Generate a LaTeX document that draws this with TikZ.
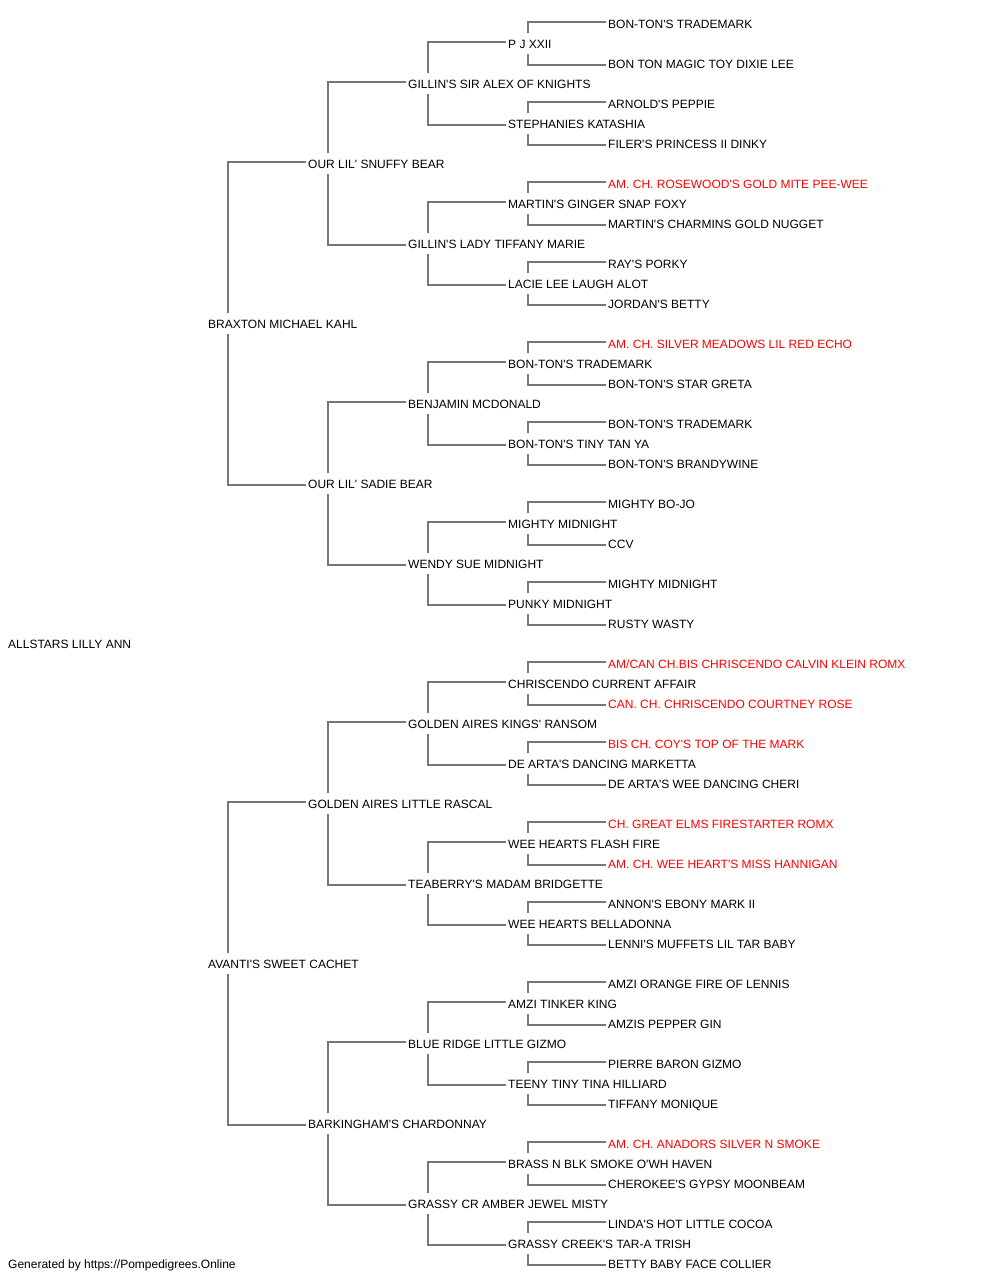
\documentclass[tikz,border=0pt]{standalone}
\usepackage{fontspec}
\setmainfont{Liberation Sans}[Ligatures=TeXOff]
\definecolor{linkgray}{RGB}{119,119,119}
\definecolor{champred}{RGB}{255,0,0}
\begin{document}
\begin{tikzpicture}[x=1pt,y=-1pt,
  dog/.style={anchor=base west,inner sep=0pt,font=\fontsize{12}{14}\selectfont,text=black},
  champ/.style={dog,text=champred},
  link/.style={draw=linkgray,line width=1.2pt}]
\useasboundingbox[fill=white] (0,0) rectangle (1000,1280);
% generation x positions: 8, 208, 308, 408, 508, 608 ; baseline = 28 + 20 i
\node[dog] (n0) at (608,28) {BON-TON'S TRADEMARK};
\node[dog] (n1) at (508,48) {P J XXII};
\node[dog] (n2) at (608,68) {BON TON MAGIC TOY DIXIE LEE};
\node[dog] (n3) at (408,88) {GILLIN'S SIR ALEX OF KNIGHTS};
\node[dog] (n4) at (608,108) {ARNOLD'S PEPPIE};
\node[dog] (n5) at (508,128) {STEPHANIES KATASHIA};
\node[dog] (n6) at (608,148) {FILER'S PRINCESS II DINKY};
\node[dog] (n7) at (308,168) {OUR LIL' SNUFFY BEAR};
\node[champ] (n8) at (608,188) {AM. CH. ROSEWOOD'S GOLD MITE PEE-WEE};
\node[dog] (n9) at (508,208) {MARTIN'S GINGER SNAP FOXY};
\node[dog] (n10) at (608,228) {MARTIN'S CHARMINS GOLD NUGGET};
\node[dog] (n11) at (408,248) {GILLIN'S LADY TIFFANY MARIE};
\node[dog] (n12) at (608,268) {RAY'S PORKY};
\node[dog] (n13) at (508,288) {LACIE LEE LAUGH ALOT};
\node[dog] (n14) at (608,308) {JORDAN'S BETTY};
\node[dog] (n15) at (208,328) {BRAXTON MICHAEL KAHL};
\node[champ] (n16) at (608,348) {AM. CH. SILVER MEADOWS LIL RED ECHO};
\node[dog] (n17) at (508,368) {BON-TON'S TRADEMARK};
\node[dog] (n18) at (608,388) {BON-TON'S STAR GRETA};
\node[dog] (n19) at (408,408) {BENJAMIN MCDONALD};
\node[dog] (n20) at (608,428) {BON-TON'S TRADEMARK};
\node[dog] (n21) at (508,448) {BON-TON'S TINY TAN YA};
\node[dog] (n22) at (608,468) {BON-TON'S BRANDYWINE};
\node[dog] (n23) at (308,488) {OUR LIL' SADIE BEAR};
\node[dog] (n24) at (608,508) {MIGHTY BO-JO};
\node[dog] (n25) at (508,528) {MIGHTY MIDNIGHT};
\node[dog] (n26) at (608,548) {CCV};
\node[dog] (n27) at (408,568) {WENDY SUE MIDNIGHT};
\node[dog] (n28) at (608,588) {MIGHTY MIDNIGHT};
\node[dog] (n29) at (508,608) {PUNKY MIDNIGHT};
\node[dog] (n30) at (608,628) {RUSTY WASTY};
\node[dog] (n31) at (8,648) {ALLSTARS LILLY ANN};
\node[champ] (n32) at (608,668) {AM/CAN CH.BIS CHRISCENDO CALVIN KLEIN ROMX};
\node[dog] (n33) at (508,688) {CHRISCENDO CURRENT AFFAIR};
\node[champ] (n34) at (608,708) {CAN. CH. CHRISCENDO COURTNEY ROSE};
\node[dog] (n35) at (408,728) {GOLDEN AIRES KINGS' RANSOM};
\node[champ] (n36) at (608,748) {BIS CH. COY'S TOP OF THE MARK};
\node[dog] (n37) at (508,768) {DE ARTA'S DANCING MARKETTA};
\node[dog] (n38) at (608,788) {DE ARTA'S WEE DANCING CHERI};
\node[dog] (n39) at (308,808) {GOLDEN AIRES LITTLE RASCAL};
\node[champ] (n40) at (608,828) {CH. GREAT ELMS FIRESTARTER ROMX};
\node[dog] (n41) at (508,848) {WEE HEARTS FLASH FIRE};
\node[champ] (n42) at (608,868) {AM. CH. WEE HEART'S MISS HANNIGAN};
\node[dog] (n43) at (408,888) {TEABERRY'S MADAM BRIDGETTE};
\node[dog] (n44) at (608,908) {ANNON'S EBONY MARK II};
\node[dog] (n45) at (508,928) {WEE HEARTS BELLADONNA};
\node[dog] (n46) at (608,948) {LENNI'S MUFFETS LIL TAR BABY};
\node[dog] (n47) at (208,968) {AVANTI'S SWEET CACHET};
\node[dog] (n48) at (608,988) {AMZI ORANGE FIRE OF LENNIS};
\node[dog] (n49) at (508,1008) {AMZI TINKER KING};
\node[dog] (n50) at (608,1028) {AMZIS PEPPER GIN};
\node[dog] (n51) at (408,1048) {BLUE RIDGE LITTLE GIZMO};
\node[dog] (n52) at (608,1068) {PIERRE BARON GIZMO};
\node[dog] (n53) at (508,1088) {TEENY TINY TINA HILLIARD};
\node[dog] (n54) at (608,1108) {TIFFANY MONIQUE};
\node[dog] (n55) at (308,1128) {BARKINGHAM'S CHARDONNAY};
\node[champ] (n56) at (608,1148) {AM. CH. ANADORS SILVER N SMOKE};
\node[dog] (n57) at (508,1168) {BRASS N BLK SMOKE O'WH HAVEN};
\node[dog] (n58) at (608,1188) {CHEROKEE'S GYPSY MOONBEAM};
\node[dog] (n59) at (408,1208) {GRASSY CR AMBER JEWEL MISTY};
\node[dog] (n60) at (608,1228) {LINDA'S HOT LITTLE COCOA};
\node[dog] (n61) at (508,1248) {GRASSY CREEK'S TAR-A TRISH};
\node[dog] (n62) at (608,1268) {BETTY BABY FACE COLLIER};
\node[dog] (footer) at (8,1268) {Generated by https://Pompedigrees.Online};
% connectors: parent/top child/bottom child
\foreach \p/\t/\b in {1/0/2,5/4/6,9/8/10,13/12/14,17/16/18,21/20/22,25/24/26,29/28/30,
  33/32/34,37/36/38,41/40/42,45/44/46,49/48/50,53/52/54,57/56/58,61/60/62,
  3/1/5,11/9/13,19/17/21,27/25/29,35/33/37,43/41/45,51/49/53,59/57/61,
  7/3/11,23/19/27,39/35/43,55/51/59,15/7/23,47/39/55}{
  \draw[link] ([xshift=20pt,yshift=15pt]n\p.base west) |- ([xshift=-2pt,yshift=6pt]n\t.base west);
  \draw[link] ([xshift=20pt,yshift=-6pt]n\p.base west) |- ([xshift=-2pt,yshift=3pt]n\b.base west);
}
\end{tikzpicture}
\end{document}
